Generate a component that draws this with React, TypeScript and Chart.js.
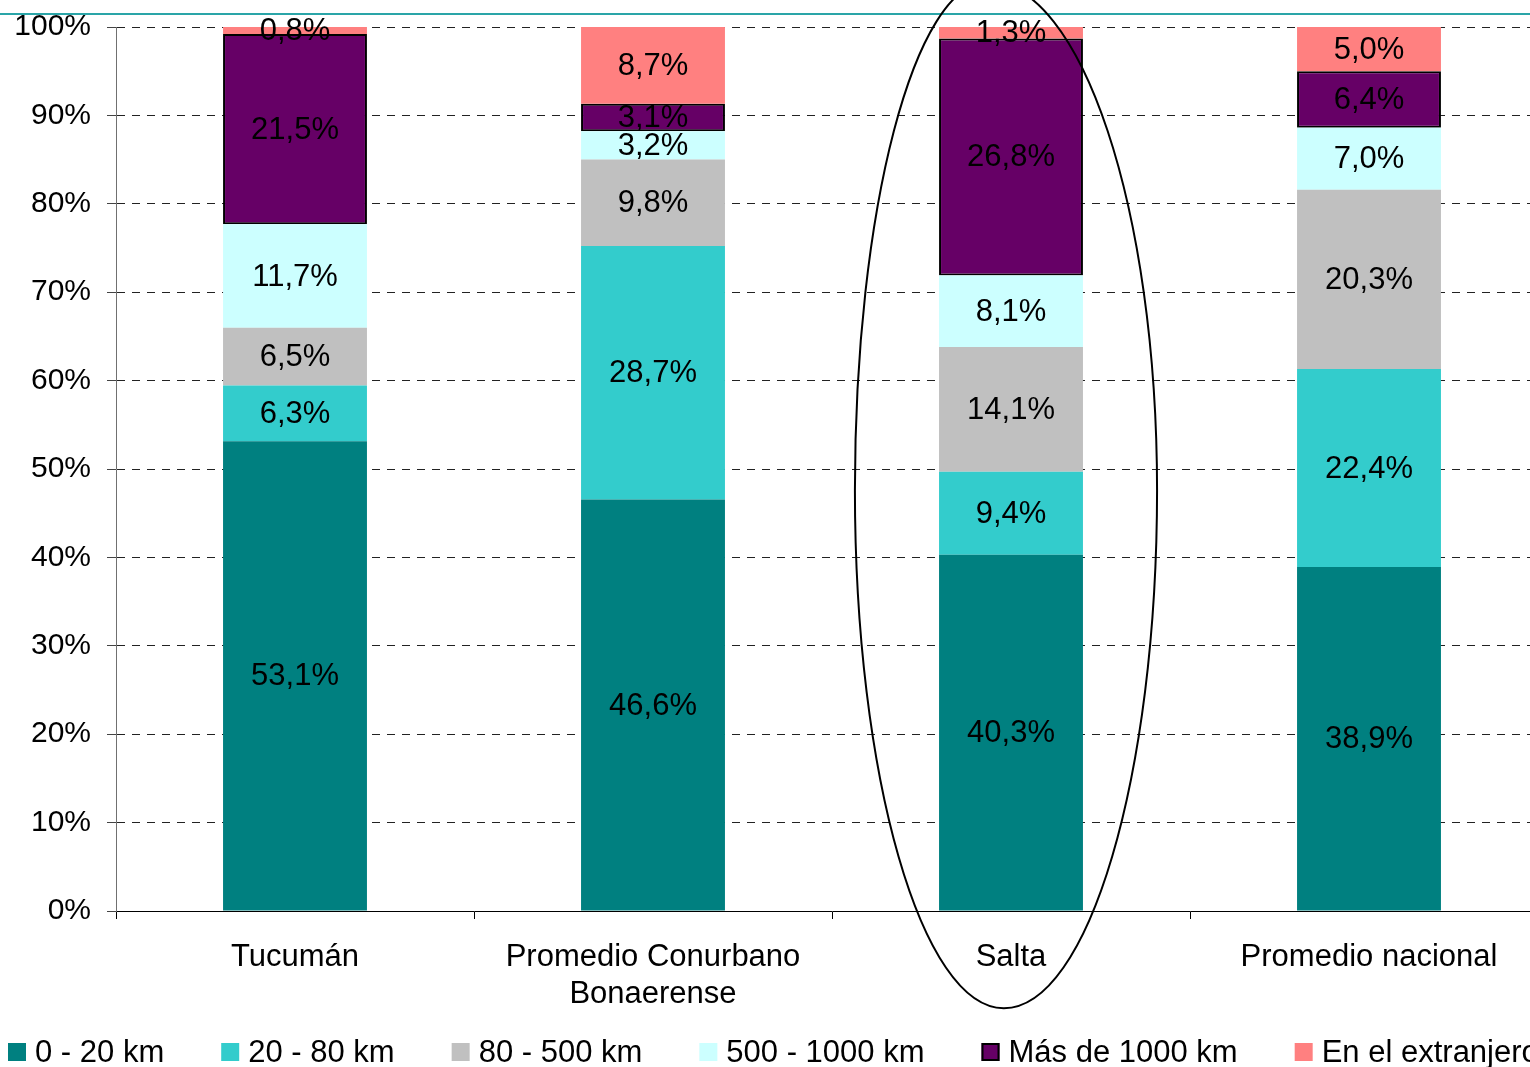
import React, { useEffect, useRef } from "react";
import { Chart, registerables } from "chart.js";

Chart.register(...registerables);

const categories: (string | string[])[] = [
  "Tucumán",
  ["Promedio Conurbano", "Bonaerense"],
  "Salta",
  "Promedio nacional",
];

const seriesNames = [
  "0 - 20 km",
  "20 - 80 km",
  "80 - 500 km",
  "500 - 1000 km",
  "Más de 1000 km",
  "En el extranjero",
];

const km0to20 = [53.1, 46.6, 40.3, 38.9];
const km20to80 = [6.3, 28.7, 9.4, 22.4];
const km80to500 = [6.5, 9.8, 14.1, 20.3];
const km500to1000 = [11.7, 3.2, 8.1, 7.0];
const kmMas1000 = [21.5, 3.1, 26.8, 6.4];
const extranjero = [0.8, 8.7, 1.3, 5.0];

const yTicks = [0, 10, 20, 30, 40, 50, 60, 70, 80, 90, 100];

const seriesValues = [km0to20, km20to80, km80to500, km500to1000, kmMas1000, extranjero];
const seriesColors = ["#008080", "#33CCCC", "#C0C0C0", "#CCFFFF", "#660066", "#FF8080"];
const seriesBorders = [0, 0, 0, 0, 2, 0];

const FONT = "'Liberation Sans', Arial, Helvetica, sans-serif";

const fmt = (v: number) => v.toFixed(1).replace(".", ",") + "%";

export default function App() {
  const ref = useRef<HTMLCanvasElement | null>(null);

  useEffect(() => {
    const canvas = ref.current;
    if (!canvas) return;

    const totals = categories.map((_, i) =>
      seriesValues.reduce((s, arr) => s + arr[i], 0)
    );

    const datasets = seriesNames.map((name, si) => ({
      label: name,
      data: seriesValues[si].map((v, i) => (v / totals[i]) * 100),
      raw: seriesValues[si],
      backgroundColor: seriesColors[si],
      borderColor: "#000000",
      borderWidth: seriesBorders[si],
      borderSkipped: false as const,
      categoryPercentage: 1,
      barPercentage: 0.402,
    }));

    const labelPlugin = {
      id: "segLabels",
      afterDatasetsDraw(chart: any) {
        const ctx = chart.ctx;
        ctx.save();
        ctx.font = `31px ${FONT}`;
        ctx.fillStyle = "#000";
        ctx.textAlign = "center";
        ctx.textBaseline = "middle";
        chart.data.datasets.forEach((ds: any, di: number) => {
          const meta = chart.getDatasetMeta(di);
          meta.data.forEach((el: any, i: number) => {
            const yc = (el.y + el.base) / 2;
            ctx.fillText(fmt(ds.raw[i]), el.x, yc + 1);
          });
        });
        ctx.restore();
      },
    };

    const decoPlugin = {
      id: "deco",
      afterDraw(chart: any) {
        const ctx = chart.ctx;
        const xs = chart.scales.x;
        const ys = chart.scales.y;
        // top teal rule
        ctx.save();
        ctx.strokeStyle = "#2AA5A8";
        ctx.lineWidth = 2;
        ctx.beginPath();
        ctx.moveTo(0, 14);
        ctx.lineTo(chart.width, 14);
        ctx.stroke();
        ctx.restore();

        // ellipse around Salta
        const cx = xs.getPixelForValue(2);
        const cw = xs.getPixelForValue(3) - xs.getPixelForValue(2);
        const top = { x: cx - 0.064 * cw, y: ys.getPixelForValue(105.1) };
        const right = { x: cx + 0.408 * cw, y: ys.getPixelForValue(47.6) };
        const bottom = { x: cx - 0.02 * cw, y: ys.getPixelForValue(-11.0) };
        const left = { x: cx - 0.436 * cw, y: ys.getPixelForValue(47.6) };
        const k = 0.5523;
        ctx.save();
        ctx.strokeStyle = "#000";
        ctx.lineWidth = 2;
        ctx.beginPath();
        ctx.moveTo(top.x, top.y);
        ctx.bezierCurveTo(
          top.x + k * (right.x - top.x), top.y,
          right.x, right.y - k * (right.y - top.y),
          right.x, right.y
        );
        ctx.bezierCurveTo(
          right.x, right.y + k * (bottom.y - right.y),
          bottom.x + k * (right.x - bottom.x), bottom.y,
          bottom.x, bottom.y
        );
        ctx.bezierCurveTo(
          bottom.x - k * (bottom.x - left.x), bottom.y,
          left.x, left.y + k * (bottom.y - left.y),
          left.x, left.y
        );
        ctx.bezierCurveTo(
          left.x, left.y - k * (left.y - top.y),
          top.x - k * (top.x - left.x), top.y,
          top.x, top.y
        );
        ctx.stroke();
        ctx.restore();

        // legend
        ctx.save();
        ctx.font = `31px ${FONT}`;
        ctx.textBaseline = "middle";
        ctx.textAlign = "left";
        let x = 8;
        const yc = 1052;
        seriesNames.forEach((name, si) => {
          ctx.fillStyle = seriesColors[si];
          ctx.fillRect(x, yc - 9, 18, 18);
          if (seriesBorders[si]) {
            ctx.strokeStyle = "#000";
            ctx.lineWidth = 2;
            ctx.strokeRect(x + 1, yc - 8, 16, 16);
          }
          ctx.fillStyle = "#000";
          ctx.fillText(name, x + 27, yc + 1);
          x += 27 + ctx.measureText(name).width + 57;
        });
        ctx.restore();
      },
    };

    const chart = new Chart(canvas, {
      type: "bar",
      data: { labels: categories as any, datasets: datasets as any },
      options: {
        responsive: false,
        animation: false,
        devicePixelRatio: 1,
        layout: { padding: { left: 0, top: 27, right: 12, bottom: 0 } },
        plugins: {
          legend: { display: false },
          tooltip: { enabled: false },
        },
        scales: {
          x: {
            stacked: true,
            offset: true,
            grid: {
              display: true,
              offset: true,
              drawOnChartArea: false,
              drawTicks: true,
              tickLength: 8,
              color: "#000",
              tickColor: "#000",
            },
            border: { display: true, color: "#000", width: 1 },
            ticks: {
              color: "#000",
              font: { family: FONT, size: 31 },
              padding: 20,
              maxRotation: 0,
              minRotation: 0,
              autoSkip: false,
            },
            afterFit(scale: any) {
              scale.height = 156;
            },
          },
          y: {
            stacked: true,
            min: 0,
            max: 100,
            afterBuildTicks(scale: any) {
              scale.ticks = yTicks.map((v) => ({ value: v }));
            },
            grid: {
              color: "#222",
              lineWidth: 1,
              tickLength: 9,
              tickColor: "#444",
              tickBorderDash: [],
            },
            border: { display: true, color: "#707070", width: 1, dash: [8, 7] },
            ticks: {
              color: "#000",
              font: { family: FONT, size: 30, lineHeight: 0.7 },
              padding: 16,
              callback: (v: any) => `${v}%`,
            },
            afterFit(scale: any) {
              scale.width = 116;
              scale.paddingTop = 0;
              scale.paddingBottom = 0;
            },
          },
        },
      },
      plugins: [labelPlugin, decoPlugin],
    });

    return () => chart.destroy();
  }, []);

  return (
    <div
      style={{
        position: "fixed",
        left: 0,
        top: 0,
        width: 1530,
        height: 1067,
        overflow: "hidden",
        background: "#fff",
      }}
    >
      <canvas ref={ref} width={1560} height={1067} style={{ width: 1560, height: 1067, display: "block" }} />
    </div>
  );
}
